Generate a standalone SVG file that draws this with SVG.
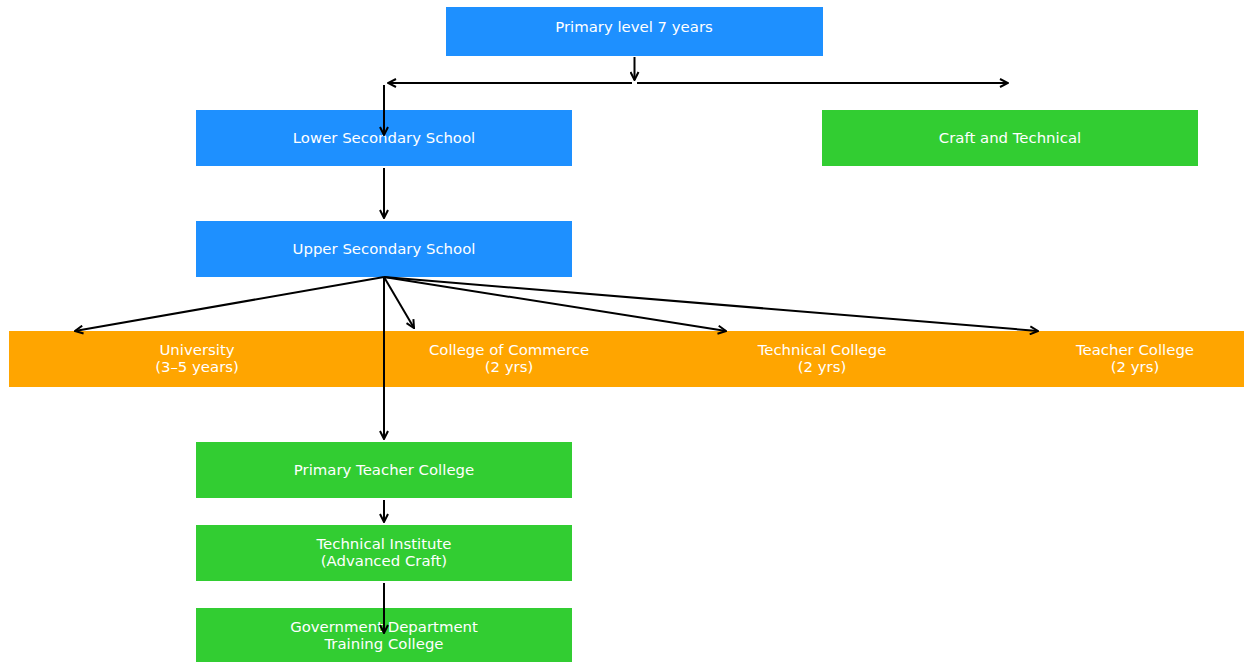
<svg xmlns="http://www.w3.org/2000/svg" width="1244" height="662" viewBox="0 0 1244 662">
<style>
.b{fill:#1E90FF}.g{fill:#32CD32}.o{fill:#FFA500}
text{font-family:"DejaVu Sans",sans-serif;font-size:14.9px;fill:#fff;text-anchor:middle}
.c line{stroke:#000;stroke-width:2;marker-end:url(#a)}
</style>
<defs>
<marker id="a" viewBox="0 0 10 10" refX="9" refY="5" markerWidth="10" markerHeight="10" markerUnits="userSpaceOnUse" orient="auto">
<path d="M1,1 L9,5 L1,9" fill="none" stroke="#000" stroke-width="2"/>
</marker>
</defs>
<rect width="1244" height="662" fill="#fff"/>
<g id="univ"><rect class="o" x="9" y="331" width="376" height="56"/><text x="197" y="355">University</text><text x="197" y="372">(3–5 years)</text></g>
<g id="commerce"><rect class="o" x="321" y="331" width="376" height="56"/><text x="509" y="355">College of Commerce</text><text x="509" y="372">(2 yrs)</text></g>
<g id="techcol"><rect class="o" x="634" y="331" width="376" height="56"/><text x="822" y="355">Technical College</text><text x="822" y="372">(2 yrs)</text></g>
<g id="teacher"><rect class="o" x="947" y="331" width="297" height="56"/><text x="1135" y="355">Teacher College</text><text x="1135" y="372">(2 yrs)</text></g>
<g id="primary"><rect class="b" x="446" y="7" width="377" height="49"/><text x="634" y="32">Primary level 7 years</text></g>
<g id="lower"><rect class="b" x="196" y="110" width="376" height="56"/><text x="384" y="143">Lower Secondary School</text></g>
<g id="craft"><rect class="g" x="822" y="110" width="376" height="56"/><text x="1010" y="143">Craft and Technical</text></g>
<g id="upper"><rect class="b" x="196" y="221" width="376" height="56"/><text x="384" y="254">Upper Secondary School</text></g>
<g id="ptc"><rect class="g" x="196" y="442" width="376" height="56"/><text x="384" y="475">Primary Teacher College</text></g>
<g id="techinst"><rect class="g" x="196" y="525" width="376" height="56"/><text x="384" y="549">Technical Institute</text><text x="384" y="566">(Advanced Craft)</text></g>
<g id="gov"><rect class="g" x="196" y="608" width="376" height="56"/><text x="384" y="632">Government Department</text><text x="384" y="649">Training College</text></g>
<g class="c" id="connectors">
<line x1="634.5" y1="57" x2="634.5" y2="80"/>
<line x1="632" y1="83" x2="388" y2="83"/>
<line x1="637" y1="83" x2="1008" y2="83"/>
<line x1="384" y1="85" x2="384" y2="135"/>
<line x1="384" y1="168" x2="384" y2="218"/>
<line x1="384" y1="277" x2="75" y2="331"/>
<line x1="384" y1="277" x2="414" y2="328"/>
<line x1="384" y1="277" x2="726" y2="331"/>
<line x1="384" y1="277" x2="1038" y2="331"/>
<line x1="384" y1="277" x2="384" y2="439"/>
<line x1="384" y1="500" x2="384" y2="522"/>
<line x1="384" y1="583" x2="384" y2="633"/>
</g>
</svg>
